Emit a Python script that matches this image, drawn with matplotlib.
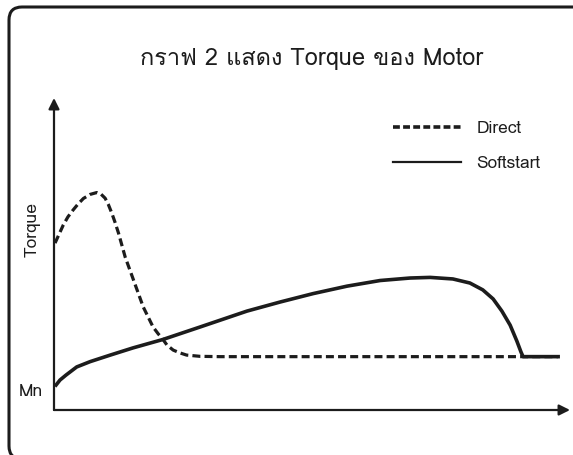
import matplotlib
matplotlib.use("Agg")
import matplotlib.pyplot as plt
from matplotlib import font_manager
from matplotlib.ft2font import FT2Font
from matplotlib.patches import FancyBboxPatch
from matplotlib.transforms import IdentityTransform

# values (time 0..100, torque 0..100)
direct_x = [0.2, 1.0, 1.8, 2.7, 3.7, 4.65, 5.7, 7.0, 8.3, 9.1, 9.9, 10.5, 11.2, 11.8, 12.5,
            13.8, 15.4, 17.3, 19.2, 20.2, 20.9, 21.9, 23.1, 24.4, 25.7, 28.3, 32.2, 97.7]
direct_y = [53.5, 56.4, 59.3, 61.9, 64.1, 66.0, 67.8, 69.1, 69.7, 69.2, 67.9, 66.0, 63.1, 60.3, 56.7,
            49.0, 41.7, 33.0, 26.6, 24.4, 23.1, 20.8, 19.2, 18.3, 17.6, 17.2, 17.1, 17.1]
soft_x = [0.4, 1.16, 2.33, 4.4, 7.0, 10.9, 15.3, 21.1, 28.3, 37.4, 43.8, 50.2, 56.8, 63.2, 69.0,
          72.9, 77.3, 80.6, 83.1, 85.1, 86.8, 88.4, 89.7, 90.5, 90.9, 97.7]
soft_y = [8.0, 9.6, 11.2, 13.8, 15.5, 17.6, 19.9, 22.6, 26.6, 31.7, 34.6, 37.3, 39.7, 41.5, 42.3,
          42.5, 42.0, 40.7, 38.5, 35.6, 31.7, 27.2, 22.1, 18.6, 17.1, 17.1]
series_labels = ["Direct", "Softstart"]
mn_value = 6.4
title = "กราฟ 2 แสดง Torque ของ Motor"

# look for any installed font that has Thai glyphs
thai_font = None
for f in font_manager.fontManager.ttflist:
    try:
        if FT2Font(f.fname).get_char_index(0x0E01):
            thai_font = f.name
            break
    except Exception:
        pass
families = [thai_font, "DejaVu Sans"] if thai_font else ["DejaVu Sans"]
plt.rcParams["font.family"] = families

ink = "#1c1c1c"
W, H = 573, 455
fig = plt.figure(figsize=(W / 100, H / 100), dpi=100)
ax = fig.add_axes([54 / W, (H - 410) / H, 516 / W, 312 / H])
ax.set_xlim(0, 100)
ax.set_ylim(0, 100)
for s in ax.spines.values():
    s.set_visible(False)

ax.plot(direct_x, direct_y, color=ink, lw=2.3, dashes=(2.5, 1.3), label=series_labels[0],
        clip_on=False, solid_joinstyle="round")
ax.plot(soft_x, soft_y, color=ink, lw=2.6, label=series_labels[1], clip_on=False,
        solid_joinstyle="round")

# axes with arrow heads
arrow = dict(arrowstyle="-|>", color=ink, lw=1.6, mutation_scale=16, shrinkA=0, shrinkB=0)
ax.annotate("", xy=(0, 1), xytext=(0, 0), xycoords="axes fraction", arrowprops=arrow)
ax.annotate("", xy=(1, 0), xytext=(0, 0), xycoords="axes fraction", arrowprops=arrow)

ax.set_xticks([])
ax.set_yticks([mn_value])
ax.set_yticklabels(["Mn"], fontsize=12.5, color=ink)
ax.tick_params(axis="y", length=0, pad=8)
ax.text(-0.041, 0.577, "Torque", rotation=90, ha="center", va="center",
        fontsize=12.5, color=ink, transform=ax.transAxes)

leg = ax.legend(loc="upper left", bbox_to_anchor=(393 / W, 1 - 121 / H), bbox_transform=fig.transFigure,
                frameon=False, fontsize=12.5, handlelength=3.9, handletextpad=0.9,
                labelspacing=1.1, borderpad=0, borderaxespad=0)
for t in leg.get_texts():
    t.set_color(ink)
leg.get_lines()[0].set_linewidth(2.6)
leg.get_lines()[0].set_dashes((1.9, 0.9))
leg.get_lines()[1].set_linewidth(1.6)

fig.text(312 / W, 1 - 58 / H, title, ha="center", va="center", fontsize=17, color=ink)

# rounded frame round the whole picture
frame = FancyBboxPatch((9, -4), 640, 452, boxstyle="round,pad=0,rounding_size=13",
                       transform=IdentityTransform(), fill=False, ec=ink, lw=2.2)
fig.add_artist(frame)

fig.savefig("out.png", dpi=100)
